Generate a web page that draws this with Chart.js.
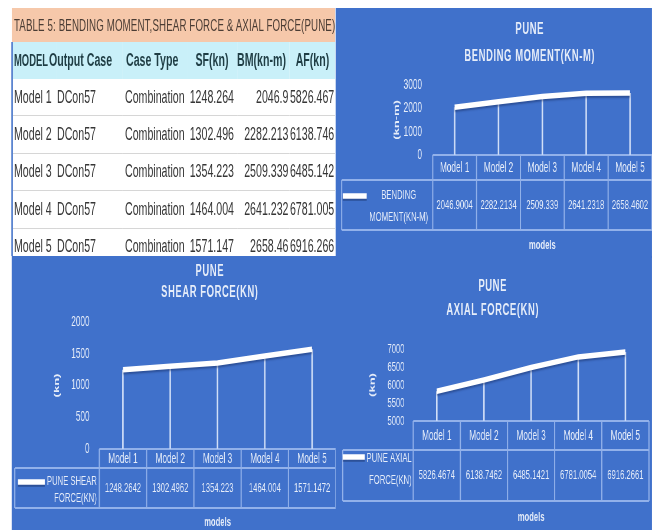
<!DOCTYPE html>
<html>
<head>
<meta charset="utf-8">
<script src="https://cdn.jsdelivr.net/npm/chart.js@4.4.0/dist/chart.umd.min.js"></script>
<style>
  html, body { margin: 0; padding: 0; background: #fff; overflow: hidden; }
  /* the sheet is laid out wide and squeezed sideways, like the pasted screenshot */
  #page { position: absolute; left: 0; top: 0; height: 530px; transform-origin: 0 0;
          font-family: "Liberation Sans", Arial, sans-serif; }
  .panel { position: absolute; background: #4071cb; }
  canvas { position: absolute; }
  #tbl { position: absolute; overflow: hidden; }
  #edge { position: absolute; background: #5a84d0; }
  table { border-collapse: collapse; table-layout: fixed; }
  td { white-space: nowrap; overflow: visible; padding: 0; color: #363636; font-size: 18px; }
  tr.cap td { background: #f6c8aa; height: 34px; font-size: 16.5px; letter-spacing: 0.2px; color: #4a3c34; }
  tr.head td { background: #c9f0f9; height: 37px; font-weight: bold; font-size: 18px; color: #1f3d44; }
  tr.row td { height: 36.4px; border-bottom: 1px solid #d6d6d6; }
  .l { text-align: left; }
  .r { text-align: right; }
  .c { text-align: center; }
</style>
</head>
<body>
<div id="page">
  <div class="panel" id="pTop"></div>
  <div class="panel" id="pBottom"></div>
  <div id="tbl"><table id="sheet"></table></div>
  <div id="edge"></div>
  <canvas id="bm"></canvas>
  <canvas id="sf"></canvas>
  <canvas id="af"></canvas>
</div>
<script>
const models = ["Model 1", "Model 2", "Model 3", "Model 4", "Model 5"];
const outputCase = "DCon57";
const caseType = "Combination";
const shearForce = [1248.2642, 1302.4962, 1354.223, 1464.004, 1571.1472];
const bendingMoment = [2046.9004, 2282.2134, 2509.339, 2641.2318, 2658.4602];
const axialForce = [5826.4674, 6138.7462, 6485.1421, 6781.0054, 6916.2661];

const SQ = 0.59;                 // horizontal squeeze
const u = px => px / SQ;         // screen px -> layout px (horizontal only)
const FONT = '"Liberation Sans", Arial, sans-serif';
const INK = "#e6edf9";

const page = document.getElementById("page");
page.style.width = u(658) + "px";
page.style.transform = "scaleX(" + SQ + ")";

function place(el, left, top, w, h) {
  el.style.left = u(left) + "px";
  el.style.top = top + "px";
  el.style.width = u(w) + "px";
  el.style.height = h + "px";
}
place(document.getElementById("pTop"), 336, 8, 316, 250);
place(document.getElementById("pBottom"), 12, 256, 640, 274);
place(document.getElementById("tbl"), 12, 8, 323, 246);
place(document.getElementById("edge"), 11.5, 42, 1.5, 214);

// ---- table 5 ----
const colW = [44, 66, 65, 50, 53, 45];
const fmt3 = v => String(+v.toFixed(3));
const pad = (side, px) => 'style="padding-' + side + ':' + u(px) + 'px"';
let html = "<colgroup>" + colW.map(w => '<col style="width:' + u(w) + 'px">').join("") + "</colgroup>";
html += '<tr class="cap"><td colspan="6" ' + pad("left", 2) + '>TABLE 5: BENDING MOMENT,SHEAR FORCE &amp; AXIAL FORCE(PUNE)</td></tr>';
html += '<tr class="head">' +
  '<td class="l" style="padding-left:' + u(2) + 'px; font-size:16px">MODEL</td>' +
  '<td class="l" style="text-indent:' + u(-7) + 'px">Output Case</td>' +
  '<td class="l" ' + pad("left", 4) + '>Case Type</td>' +
  '<td class="c">SF(kn)</td>' +
  '<td class="c" ' + pad("right", 4) + '>BM(kn-m)</td>' +
  '<td class="c">AF(kn)</td></tr>';
models.forEach((m, i) => {
  html += '<tr class="row">' +
    '<td class="l" ' + pad("left", 2) + '>' + m + '</td>' +
    '<td class="l" ' + pad("left", 1) + '>' + outputCase + '</td>' +
    '<td class="l" ' + pad("left", 3) + '>' + caseType + '</td>' +
    '<td class="r" ' + pad("right", 3) + '>' + fmt3(shearForce[i]) + '</td>' +
    '<td class="r" ' + pad("right", 1.5) + '>' + fmt3(bendingMoment[i]) + '</td>' +
    '<td class="r" ' + pad("right", 2) + '>' + fmt3(axialForce[i]) + '</td></tr>';
});
const sheet = document.getElementById("sheet");
sheet.style.width = u(323) + "px";
sheet.innerHTML = html;

// ---- excel-style chart extras: titles, drop lines, data table ----
const sheetPlugin = {
  id: "sheet",
  beforeDatasetsDraw(chart) {
    const { ctx, chartArea: a } = chart;
    ctx.save();
    ctx.strokeStyle = "rgba(235,242,255,0.85)";
    ctx.lineWidth = 2.6;
    ctx.beginPath();
    chart.getDatasetMeta(0).data.forEach(p => {
      ctx.moveTo(p.x, p.y);
      ctx.lineTo(p.x, a.bottom);
    });
    ctx.stroke();
    ctx.restore();
    ctx.save();
    ctx.shadowColor = "rgba(20,40,90,0.45)";
    ctx.shadowOffsetY = 2;
    ctx.shadowBlur = 2;
  },
  afterDatasetsDraw(chart) {
    chart.ctx.restore();
  },
  afterDraw(chart, args, o) {
    const { ctx, chartArea: a, scales: { x } } = chart;
    const ds = chart.data.datasets[0];
    const n = chart.data.labels.length;
    const cw = a.width / n;
    const t0 = a.bottom, t1 = t0 + o.headH, t2 = t1 + o.rowH;
    const left = u(o.left);

    ctx.save();
    ctx.fillStyle = INK;
    ctx.textAlign = "center";
    ctx.textBaseline = "middle";
    ctx.font = "bold 16px " + FONT;
    ctx.letterSpacing = "1px";
    o.title.forEach((t, i) => ctx.fillText(t, u(o.titleX), o.titleY[i]));
    ctx.letterSpacing = "0px";

    // grid of the data table
    ctx.strokeStyle = "rgba(190,212,250,0.65)";
    ctx.lineWidth = 2;
    ctx.beginPath();
    ctx.moveTo(a.left, t0); ctx.lineTo(a.right, t0);
    ctx.moveTo(left, t1); ctx.lineTo(a.right, t1);
    ctx.moveTo(left, t2); ctx.lineTo(a.right, t2);
    ctx.moveTo(left, t1); ctx.lineTo(left, t2);
    for (let i = 0; i <= n; i++) {
      const xe = i < n ? x.getPixelForValue(i) - cw / 2 : x.getPixelForValue(n - 1) + cw / 2;
      ctx.moveTo(xe, t0); ctx.lineTo(xe, t2);
    }
    ctx.stroke();

    ctx.font = "14px " + FONT;
    chart.data.labels.forEach((lab, i) => ctx.fillText(lab, x.getPixelForValue(i), (t0 + t1) / 2 + 1, cw - 8));
    ctx.font = "13px " + FONT;
    ds.data.forEach((v, i) => ctx.fillText(String(v), x.getPixelForValue(i), (t1 + t2) / 2, cw - 6));

    // legend key and series name
    const words = ds.label.split(" ");
    const lines = [words.slice(0, -1).join(" "), words[words.length - 1]];
    ctx.textAlign = o.textAlign;
    ctx.font = "13px " + FONT;
    lines.forEach((s, i) => ctx.fillText(s, u(o.textX), o.lineY[i]));
    ctx.strokeStyle = "#ffffff";
    ctx.lineWidth = 5.5;
    ctx.shadowColor = "rgba(20,40,90,0.45)";
    ctx.shadowOffsetY = 2;
    ctx.beginPath();
    ctx.moveTo(u(o.key[0]), o.key[2]);
    ctx.lineTo(u(o.key[1]), o.key[2]);
    ctx.stroke();
    ctx.shadowColor = "transparent";

    ctx.textAlign = "center";
    ctx.font = "bold 13px " + FONT;
    ctx.fillText("models", (a.left + a.right) / 2, o.modelsY);
    ctx.restore();
  }
};

function makeChart(id, box, label, values, c) {
  const cv = document.getElementById(id);
  cv.width = Math.round(u(box[2]));
  cv.height = box[3];
  cv.style.left = u(box[0]) + "px";
  cv.style.top = box[1] + "px";
  return new Chart(cv, {
    type: "line",
    data: {
      labels: models,
      datasets: [{
        label: label,
        data: values,
        borderColor: "#ffffff",
        borderWidth: 5.5,
        borderCapStyle: "butt",
        pointRadius: 0,
        tension: 0
      }]
    },
    options: {
      responsive: false,
      animation: false,
      layout: { padding: { left: 0, right: u(c.padRight), top: c.padTop, bottom: c.padBottom } },
      plugins: {
        legend: { display: false },
        tooltip: { enabled: false },
        title: { display: false },
        sheet: c.sheet
      },
      scales: {
        x: { display: false, offset: true },
        y: {
          min: c.min, max: c.max,
          ticks: {
            stepSize: c.step, autoSkip: false, padding: u(c.tickPad), color: INK,
            font: { family: FONT, size: c.tickSize },
            callback: v => String(v)
          },
          grid: { display: false },
          border: { display: false },
          title: {
            display: true, text: c.yTitle, color: INK,
            font: { family: FONT, size: 13, weight: "bold" },
            padding: { top: u(c.yTitleX) - 7.8, bottom: 0 }
          },
          afterFit: s => { s.width = u(c.areaLeft); }
        }
      }
    },
    plugins: [sheetPlugin]
  });
}

makeChart("bm", [336, 8, 316, 242], "BENDING MOMENT(KN-M)", bendingMoment, {
  min: 0, max: 3000, step: 1000, yTitle: "(kn-m)", tickSize: 14,
  padTop: 77, padBottom: 95, padRight: 0, areaLeft: 97, tickPad: 6, yTitleX: 61,
  sheet: { title: ["PUNE", "BENDING MOMENT(KN-M)"], titleX: 194, titleY: [22, 49],
           left: 6, headH: 25, rowH: 50, key: [7, 31, 188], textAlign: "center", textX: 63,
           lineY: [187, 209], modelsY: 237 }
});

makeChart("sf", [12, 256, 324, 274], "PUNE SHEAR FORCE(KN)", shearForce, {
  min: 0, max: 2000, step: 500, yTitle: "(kn)", tickSize: 14,
  padTop: 66, padBottom: 81, padRight: 0, areaLeft: 87.5, tickPad: 5, yTitleX: 45,
  sheet: { title: ["PUNE", "SHEAR FORCE(KN)"], titleX: 198, titleY: [16, 37],
           left: 3, headH: 19, rowH: 40, key: [6, 33, 226], textAlign: "right", textX: 85,
           lineY: [225, 242], modelsY: 266 }
});

makeChart("af", [336, 256, 316, 274], "PUNE AXIAL FORCE(KN)", axialForce, {
  min: 5000, max: 7000, step: 500, yTitle: "(kn)", tickSize: 13,
  padTop: 93, padBottom: 109, padRight: 3, areaLeft: 77.5, tickPad: 4, yTitleX: 37,
  sheet: { title: ["PUNE", "AXIAL FORCE(KN)"], titleX: 157, titleY: [31, 55],
           left: 7, headH: 29, rowH: 51, key: [7, 29, 201], textAlign: "right", textX: 76,
           lineY: [202, 224], modelsY: 261 }
});
</script>
</body>
</html>
